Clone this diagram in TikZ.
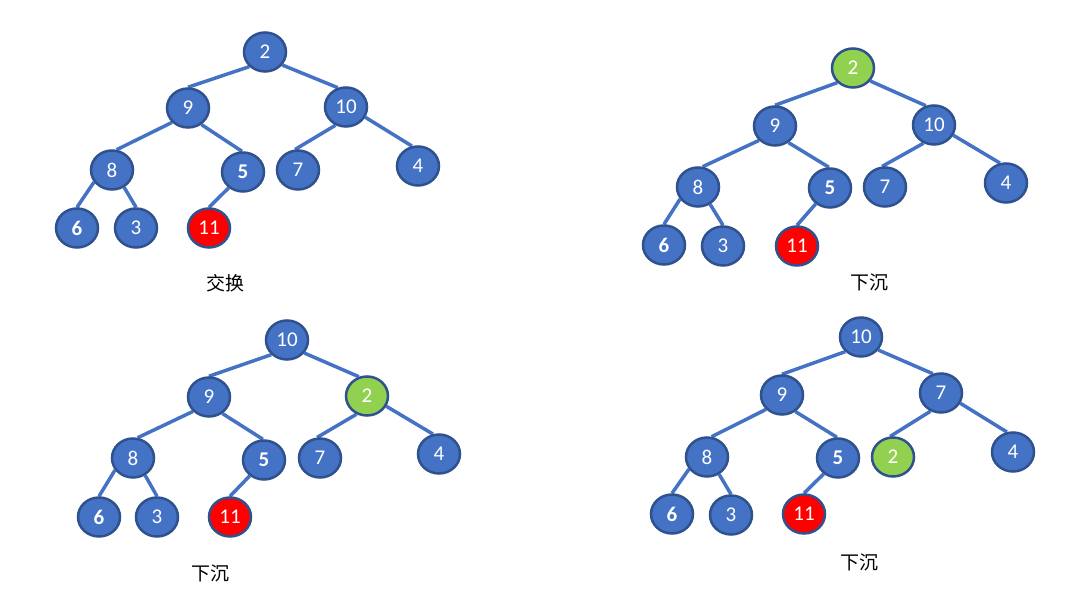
\documentclass[tikz,border=0pt]{standalone}
\usepackage{fontspec}
\setmainfont{Carlito}
\newfontfamily\cjk{Noto Sans CJK SC}
\usetikzlibrary{shapes.geometric,backgrounds}
\definecolor{nblue}{HTML}{4472C4}
\definecolor{nborder}{HTML}{2F528F}
\definecolor{ngreen}{HTML}{92D050}
\definecolor{nred}{HTML}{FF0000}
\tikzset{
  hn/.style={ellipse, draw=nborder, line width=2.5pt, fill=nblue, minimum width=42pt, minimum height=39pt, inner sep=0pt, text=white, font=\fontsize{21}{21}\selectfont},
  hg/.style={hn, fill=ngreen},
  hr/.style={hn, fill=nred},
  hb/.style={hn, font=\fontsize{21}{21}\selectfont\bfseries},
  edge/.style={draw=nblue, line width=3.5pt},
  captxt/.style={font=\cjk\fontsize{19}{19}\selectfont, text=black},
}
\begin{document}
\begin{tikzpicture}[x=1pt,y=-1pt]
\useasboundingbox (0,0) rectangle (1080,601);
% Tree A
\node[hn] (a2) at (265,52) {2};
\node[hn] (a9) at (188,108) {9};
\node[hn] (a10) at (346,107) {10};
\node[hn] (a8) at (112,170) {8};
\node[hb] (a5) at (243,172) {5};
\node[hn] (a7) at (298,170) {7};
\node[hn] (a4) at (418,166) {4};
\node[hb] (a6) at (77,228) {6};
\node[hn] (a3) at (136,228) {3};
\node[hr] (a11) at (209,228) {11};
\node[captxt] (la) at (225,283) {交换};
\begin{scope}[on background layer]
\draw[edge] (a2.223)--(a9.north) (a2.323)--(a10.113) (a9.222)--(a8.77) (a9.309)--(a5.93) (a10.240)--(a7.98) (a10.332)--(a4.107) (a8.214)--(a6.north) (a8.305)--(a3.north) (a5.228)--(a11.north);
\end{scope}
% Tree B
\node[hg] (b2) at (853,68) {2};
\node[hn] (b9) at (775,126) {9};
\node[hn] (b10) at (934,125) {10};
\node[hn] (b8) at (698,187) {8};
\node[hb] (b5) at (830,188) {5};
\node[hn] (b7) at (885,187) {7};
\node[hn] (b4) at (1006,183) {4};
\node[hb] (b6) at (664,245) {6};
\node[hn] (b3) at (723,246) {3};
\node[hr] (b11) at (797,246) {11};
\node[captxt] (lb) at (869,282) {下沉};
\begin{scope}[on background layer]
\draw[edge] (b2.223)--(b9.north) (b2.323)--(b10.113) (b9.222)--(b8.77) (b9.309)--(b5.93) (b10.240)--(b7.98) (b10.332)--(b4.107) (b8.214)--(b6.north) (b8.305)--(b3.north) (b5.228)--(b11.north);
\end{scope}
% Tree C
\node[hn] (c10) at (287,340) {10};
\node[hn] (c9) at (209,397) {9};
\node[hg] (c2) at (367,396) {2};
\node[hn] (c8) at (133,458) {8};
\node[hb] (c5) at (264,460) {5};
\node[hn] (c7) at (320,458) {7};
\node[hn] (c4) at (439,454) {4};
\node[hb] (c6) at (99,517) {6};
\node[hn] (c3) at (157,517) {3};
\node[hr] (c11) at (230,517) {11};
\node[captxt] (lc) at (210,573) {下沉};
\begin{scope}[on background layer]
\draw[edge] (c10.223)--(c9.north) (c10.323)--(c2.113) (c9.222)--(c8.77) (c9.309)--(c5.93) (c2.240)--(c7.98) (c2.332)--(c4.107) (c8.214)--(c6.north) (c8.305)--(c3.north) (c5.228)--(c11.north);
\end{scope}
% Tree D
\node[hn] (d10) at (861,337) {10};
\node[hn] (d9) at (782,395) {9};
\node[hn] (d7) at (941,393) {7};
\node[hn] (d8) at (707,457) {8};
\node[hb] (d5) at (838,458) {5};
\node[hg] (d2) at (893,457) {2};
\node[hn] (d4) at (1013,452) {4};
\node[hb] (d6) at (672,514) {6};
\node[hn] (d3) at (731,515) {3};
\node[hr] (d11) at (804,514) {11};
\node[captxt] (ld) at (859,562) {下沉};
\begin{scope}[on background layer]
\draw[edge] (d10.223)--(d9.north) (d10.323)--(d7.113) (d9.222)--(d8.77) (d9.309)--(d5.93) (d7.240)--(d2.98) (d7.332)--(d4.107) (d8.214)--(d6.north) (d8.305)--(d3.north) (d5.228)--(d11.north);
\end{scope}
\end{tikzpicture}
\end{document}
